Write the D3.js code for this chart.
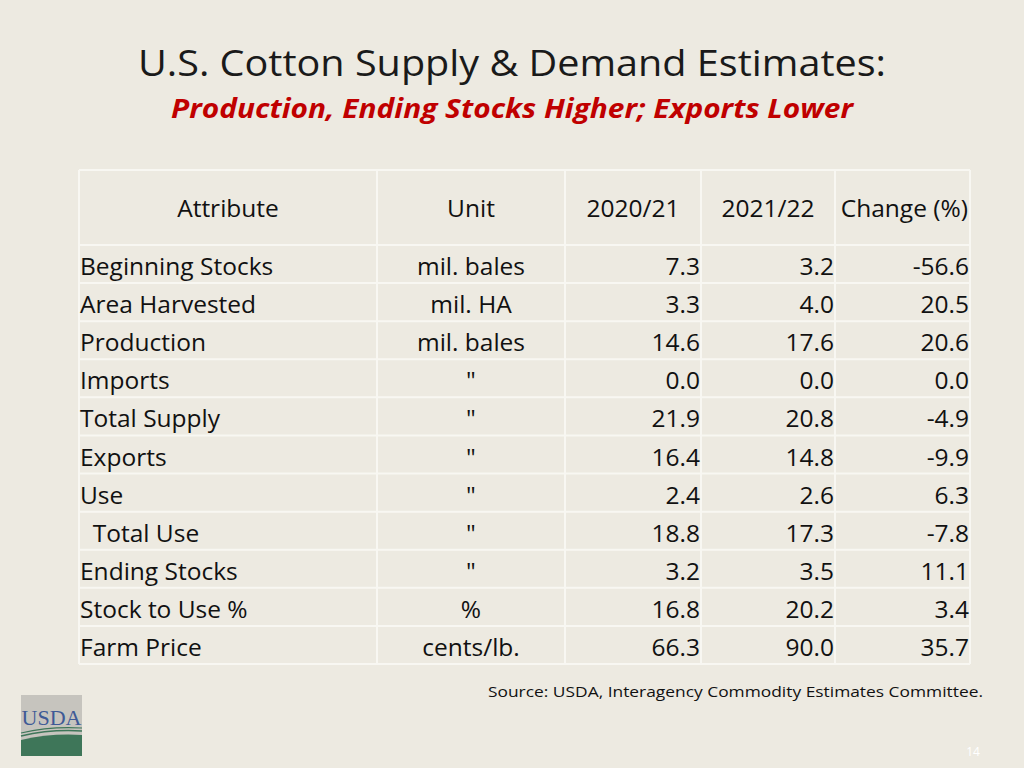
<!DOCTYPE html>
<html><head><meta charset="utf-8">
<script src="https://cdn.jsdelivr.net/npm/d3@7"></script>
<style>html,body{margin:0;padding:0;background:#EDEAE1;}svg{display:block;}</style>
</head><body><svg id="c" width="1024" height="768"></svg>
<script>
const headers = ["Attribute","Unit","2020/21","2021/22","Change (%)"];
const attributes = ["Beginning Stocks","Area Harvested","Production","Imports","Total Supply","Exports","Use","  Total Use","Ending Stocks","Stock to Use %","Farm Price"];
const units = ["mil. bales","mil. HA","mil. bales","\"","\"","\"","\"","\"","\"","%","cents/lb."];
const values2020 = [7.3,3.3,14.6,0.0,21.9,16.4,2.4,18.8,3.2,16.8,66.3];
const values2021 = [3.2,4.0,17.6,0.0,20.8,14.8,2.6,17.3,3.5,20.2,90.0];
const changePct = [-56.6,20.5,20.6,0.0,-4.9,-9.9,6.3,-7.8,11.1,3.4,35.7];

const svg = d3.select("#c");
const font = "Open Sans, sans-serif";
svg.append("rect").attr("width",1024).attr("height",768).attr("fill","#EDEAE1");

svg.append("text").attr("x",512).attr("y",76).attr("text-anchor","middle")
  .attr("font-family",font).attr("font-size",36).attr("fill","#1a1a1a")
  .attr("textLength",748).attr("lengthAdjust","spacingAndGlyphs")
  .text("U.S. Cotton Supply & Demand Estimates:");
svg.append("text").attr("x",512).attr("y",118).attr("text-anchor","middle")
  .attr("font-family",font).attr("font-size",26).attr("font-weight","bold").attr("font-style","italic").attr("fill","#C00000")
  .attr("textLength",682).attr("lengthAdjust","spacingAndGlyphs")
  .text("Production, Ending Stocks Higher; Exports Lower");

const colEdges = [79,377,565,701,835,970];
const x = d3.scaleOrdinal().domain(d3.range(6)).range(colEdges);
const rows = d3.scaleBand().domain(d3.range(attributes.length)).range([245,664]);
const headTop = 170, headBot = 245;

const g = svg.append("g");
const hLines = [headTop, ...d3.range(attributes.length).map(i=>rows(i)), 664];
g.selectAll("line.h").data(hLines).join("line")
  .attr("x1",colEdges[0]).attr("x2",colEdges[5]).attr("y1",d=>d).attr("y2",d=>d)
  .attr("stroke","#F8F7F2").attr("stroke-width",2);
g.selectAll("line.v").data(d3.range(6)).join("line")
  .attr("x1",d=>x(d)).attr("x2",d=>x(d)).attr("y1",headTop).attr("y2",664)
  .attr("stroke","#F8F7F2").attr("stroke-width",2);

const fs = 24.5;
g.selectAll("text.hd").data(headers).join("text")
  .attr("x",(d,i)=> i<4 ? (x(i)+x(i+1))/2 : x(5)-2)
  .attr("y",217).attr("text-anchor",(d,i)=> i<4?"middle":"end")
  .attr("font-family",font).attr("font-size",fs).attr("fill","#111")
  .text(d=>d);

function cellText(cls, data, xf, anchor, fmt){
  g.selectAll("text."+cls).data(data).join("text").attr("class",cls)
    .attr("x",(d,i)=>xf(i)).attr("y",(d,i)=>rows(i)+rows.bandwidth()/2+11)
    .attr("text-anchor",anchor).attr("font-family",font).attr("font-size",fs).attr("fill","#111")
    .text(fmt);
}
cellText("attr", attributes, ()=>x(0)+1, "start", d=>d.startsWith("  ")?"\u00a0\u00a0"+d.trim():d);
cellText("unit", units, ()=>(x(1)+x(2))/2, "middle", d=>d);
cellText("v20", values2020, ()=>x(3)-1, "end", d=>d3.format(".1f")(d));
cellText("v21", values2021, ()=>x(4)-1, "end", d=>d3.format(".1f")(d));
cellText("chg", changePct, ()=>x(5)-1, "end", d=>d3.format(".1f")(d).replace("−","-"));

svg.append("text").attr("x",983).attr("y",697).attr("text-anchor","end")
  .attr("font-family",font).attr("font-size",15).attr("fill","#111")
  .attr("textLength",495).attr("lengthAdjust","spacingAndGlyphs")
  .text("Source: USDA, Interagency Commodity Estimates Committee.");

const lg = svg.append("g").attr("transform","translate(21,695)");
lg.append("rect").attr("width",61).attr("height",61).attr("fill","#C6C4BE");
lg.append("path").attr("d","M0,45 Q30,38 61,40 L61,61 L0,61 Z").attr("fill","#3E7659");
lg.append("path").attr("d","M0,41 Q30,34 61,36").attr("stroke","#3E7659").attr("stroke-width",1.5).attr("fill","none");
lg.append("path").attr("d","M0,38 Q30,31 61,33").attr("stroke","#3E7659").attr("stroke-width",1.2).attr("fill","none");
lg.append("text").attr("x",30.5).attr("y",30).attr("text-anchor","middle")
  .attr("font-family","Liberation Serif, serif").attr("font-size",22).attr("fill","#3E5A96")
  .attr("textLength",60).attr("lengthAdjust","spacingAndGlyphs").text("USDA");

svg.append("text").attr("x",973).attr("y",756).attr("text-anchor","middle")
  .attr("font-family",font).attr("font-size",12).attr("fill","#FFFFFF").text("14");
</script></body></html>
